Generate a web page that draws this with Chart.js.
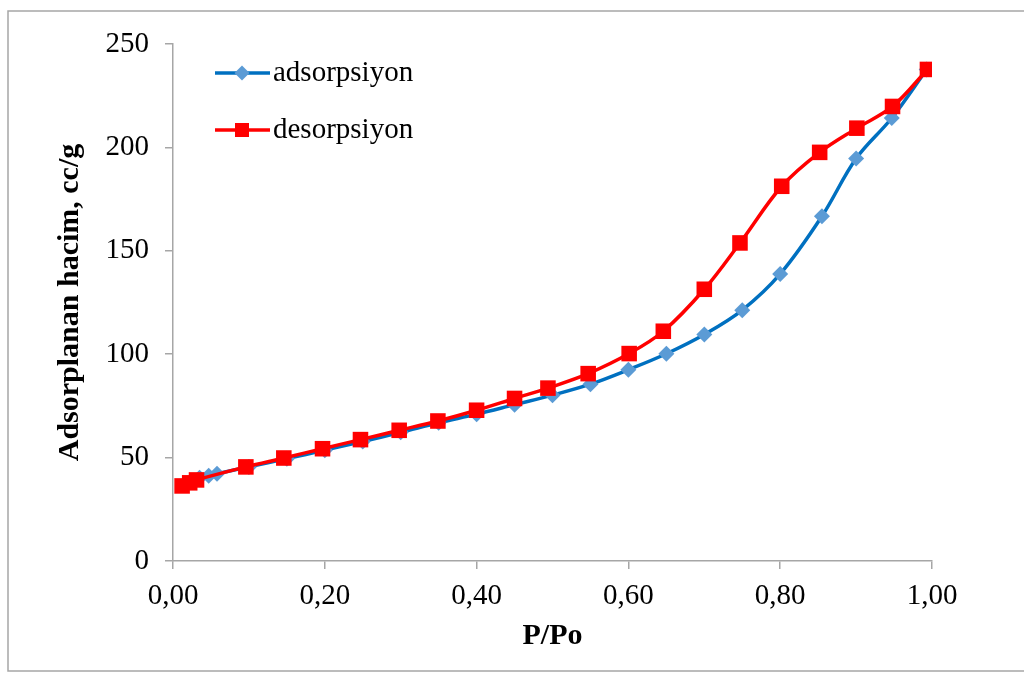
<!DOCTYPE html>
<html>
<head>
<meta charset="utf-8">
<script src="https://cdn.jsdelivr.net/npm/chart.js@4.4.1/dist/chart.umd.min.js"></script>
<style>
  html, body { margin: 0; padding: 0; background: #fff; }
  #wrap { position: relative; width: 1024px; height: 673px; }
</style>
</head>
<body>
<div id="wrap"><canvas id="mainChart" width="1024" height="673"></canvas></div>
<script>
// P/Po values and adsorbed volume (cc/g)
const adsX = [0.035, 0.047, 0.058, 0.10, 0.15, 0.20, 0.25, 0.30, 0.35, 0.40, 0.45, 0.50, 0.55, 0.60, 0.65, 0.70, 0.75, 0.80, 0.855, 0.90, 0.947, 0.993];
const adsY = [40.2, 41.2, 42.2, 45.5, 49.5, 53.6, 57.8, 62.2, 66.8, 71.0, 75.6, 80.2, 85.5, 92.5, 100.2, 109.5, 121.3, 138.8, 166.7, 194.6, 214.2, 237.7];
const desX = [0.012, 0.022, 0.031, 0.096, 0.146, 0.197, 0.247, 0.298, 0.349, 0.40, 0.45, 0.494, 0.547, 0.601, 0.646, 0.70, 0.747, 0.802, 0.852, 0.901, 0.948, 0.994];
const desY = [36.3, 37.8, 39.2, 45.5, 49.8, 54.3, 58.7, 63.2, 67.7, 72.9, 78.6, 83.6, 90.6, 100.3, 111.1, 131.4, 153.8, 181.2, 197.6, 209.3, 219.8, 237.7];
const seriesNames = ['adsorpsiyon', 'desorpsiyon'];
const xTitle = 'P/Po';
const yTitle = 'Adsorplanan hacim, cc/g';

const toPoints = (xs, ys) => xs.map((x, i) => ({ x: x, y: ys[i] }));
const axisGrey = '#a6a6a6';
const serif = "'Liberation Serif', 'Times New Roman', serif";

// frame around the whole chart (left, top, bottom)
const framePlugin = {
    id: 'frame',
    beforeDraw(chart) {
        const c = chart.ctx;
        c.save();
        c.strokeStyle = '#a6a6a6';
        c.lineWidth = 1.5;
        c.beginPath();
        c.moveTo(1030, 11);
        c.lineTo(8, 11);
        c.lineTo(8, 671);
        c.lineTo(1030, 671);
        c.stroke();
        c.restore();
    }
};

// legend drawn inside the plot area, one row per series
const legendPlugin = {
    id: 'innerLegend',
    afterDraw(chart) {
        const c = chart.ctx;
        const rows = [73, 130];
        c.save();
        chart.data.datasets.forEach((ds, i) => {
            const y = rows[i];
            c.strokeStyle = ds.borderColor;
            c.lineWidth = 3.5;
            c.beginPath();
            c.moveTo(215, y);
            c.lineTo(270, y);
            c.stroke();
            c.fillStyle = ds.pointBackgroundColor;
            c.beginPath();
            if (ds.pointStyle === 'rectRot') {
                const r = 7.5;
                c.moveTo(242, y - r);
                c.lineTo(242 + r, y);
                c.lineTo(242, y + r);
                c.lineTo(242 - r, y);
                c.closePath();
            } else {
                c.rect(235, y - 7, 14, 14);
            }
            c.fill();
            c.fillStyle = '#000';
            c.font = '29px ' + serif;
            c.textBaseline = 'middle';
            c.textAlign = 'left';
            c.fillText(ds.label, 273, y);
        });
        c.restore();
    }
};

const ctx = document.getElementById('mainChart').getContext('2d');

new Chart(ctx, {
    type: 'line',
    data: {
        datasets: [
            {
                label: seriesNames[0],
                data: toPoints(adsX, adsY),
                borderColor: '#0070c0',
                backgroundColor: '#5b9bd5',
                pointBackgroundColor: '#5b9bd5',
                pointBorderColor: '#5b9bd5',
                pointBorderWidth: 0,
                pointStyle: 'rectRot',
                pointRadius: 8,
                borderWidth: 3.5,
                tension: 0.35,
                order: 2
            },
            {
                label: seriesNames[1],
                data: toPoints(desX, desY),
                borderColor: '#ff0000',
                backgroundColor: '#ff0000',
                pointBackgroundColor: '#ff0000',
                pointBorderColor: '#ff0000',
                pointBorderWidth: 0,
                pointStyle: 'rect',
                pointRadius: 11,
                borderWidth: 3.5,
                tension: 0.35,
                order: 1
            }
        ]
    },
    options: {
        responsive: false,
        animation: false,
        layout: { padding: { left: 0, right: 92, top: 44, bottom: 0 } },
        plugins: {
            legend: { display: false },
            tooltip: { enabled: false }
        },
        scales: {
            x: {
                type: 'linear',
                min: 0,
                max: 1,
                afterFit(scale) { scale.height = 112; },
                border: { color: axisGrey, width: 1.5 },
                grid: { drawOnChartArea: false, drawTicks: true, tickLength: 8, color: axisGrey, lineWidth: 1.5 },
                ticks: {
                    stepSize: 0.2,
                    padding: 10,
                    color: '#000',
                    font: { family: serif, size: 29 },
                    maxRotation: 0,
                    callback: (v) => v.toFixed(2).replace('.', ',')
                },
                title: {
                    display: true,
                    text: xTitle,
                    color: '#000',
                    font: { family: serif, size: 30, weight: 'bold' },
                    padding: { top: 0, bottom: 19 }
                }
            },
            y: {
                min: 0,
                max: 250,
                afterFit(scale) { scale.width = 173; },
                border: { color: axisGrey, width: 1.5 },
                grid: { drawOnChartArea: false, drawTicks: true, tickLength: 8, color: axisGrey, lineWidth: 1.5 },
                ticks: {
                    stepSize: 50,
                    padding: 16,
                    color: '#000',
                    font: { family: serif, size: 29 }
                },
                title: {
                    display: true,
                    text: yTitle,
                    color: '#000',
                    font: { family: serif, size: 30, weight: 'bold' },
                    padding: { top: 52, bottom: 0 }
                }
            }
        }
    },
    plugins: [framePlugin, legendPlugin]
});
</script>
</body>
</html>
